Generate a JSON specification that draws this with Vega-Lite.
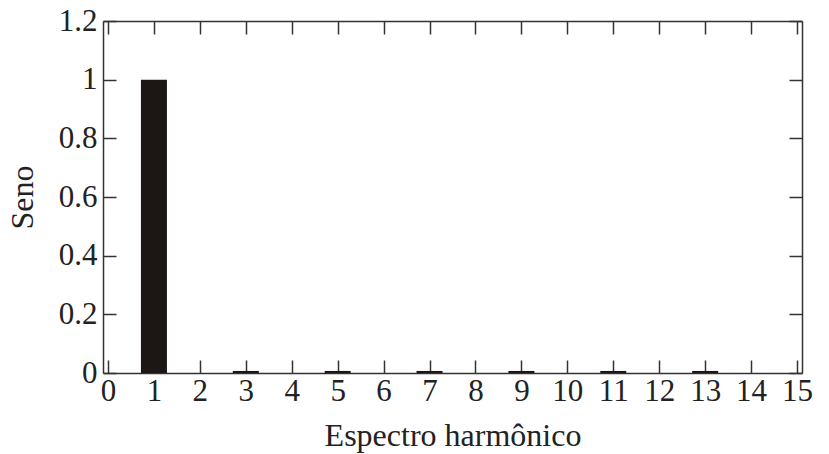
{
  "$schema": "https://vega.github.io/schema/vega-lite/v6.json",
  "width": 699,
  "height": 352,
  "autosize": "none",
  "padding": {"left": 103, "top": 21, "right": 27, "bottom": 81},
  "background": "white",
  "config": {
    "view": {"stroke": null},
    "font": "Liberation Serif",
    "axis": {
      "grid": false,
      "domainColor": "#333333",
      "domainWidth": 1.5,
      "tickColor": "#333333",
      "tickWidth": 1.5,
      "tickSize": -13,
      "labelFont": "Liberation Serif",
      "labelFontSize": 31,
      "labelColor": "#222222",
      "titleFont": "Liberation Serif",
      "titleFontSize": 32,
      "titleFontWeight": "normal",
      "titleColor": "#222222"
    }
  },
  "data": {"values": [
    {"harmonic": 1, "value": 1.0},
    {"harmonic": 3, "value": 0.007},
    {"harmonic": 5, "value": 0.007},
    {"harmonic": 7, "value": 0.007},
    {"harmonic": 9, "value": 0.007},
    {"harmonic": 11, "value": 0.007},
    {"harmonic": 13, "value": 0.007}
  ]},
  "resolve": {"axis": {"x": "independent", "y": "independent"}},
  "layer": [
    {
      "mark": {"type": "bar", "width": 26, "color": "#1c1714"},
      "encoding": {
        "x": {"field": "harmonic", "type": "quantitative",
              "scale": {"domain": [0, 15], "nice": false, "zero": false},
              "axis": {"orient": "bottom", "values": [0,1,2,3,4,5,6,7,8,9,10,11,12,13,14,15], "format": "d", "labelPadding": 16, "title": "Espectro harmônico", "titlePadding": 14}},
        "y": {"field": "value", "type": "quantitative",
              "scale": {"domain": [0, 1.2], "nice": false},
              "axis": {"orient": "left", "values": [0, 0.2, 0.4, 0.6, 0.8, 1, 1.2], "format": "~g", "labelPadding": 19, "title": "Seno", "titlePadding": 19}}
      }
    },
    {
      "mark": {"type": "point", "opacity": 0},
      "encoding": {
        "x": {"field": "harmonic", "type": "quantitative",
              "scale": {"domain": [0, 15], "nice": false, "zero": false},
              "axis": {"orient": "top", "values": [0,1,2,3,4,5,6,7,8,9,10,11,12,13,14,15], "labels": false, "title": null}},
        "y": {"field": "value", "type": "quantitative",
              "scale": {"domain": [0, 1.2], "nice": false},
              "axis": {"orient": "right", "values": [0, 0.2, 0.4, 0.6, 0.8, 1, 1.2], "labels": false, "title": null}}
      }
    }
  ]
}
